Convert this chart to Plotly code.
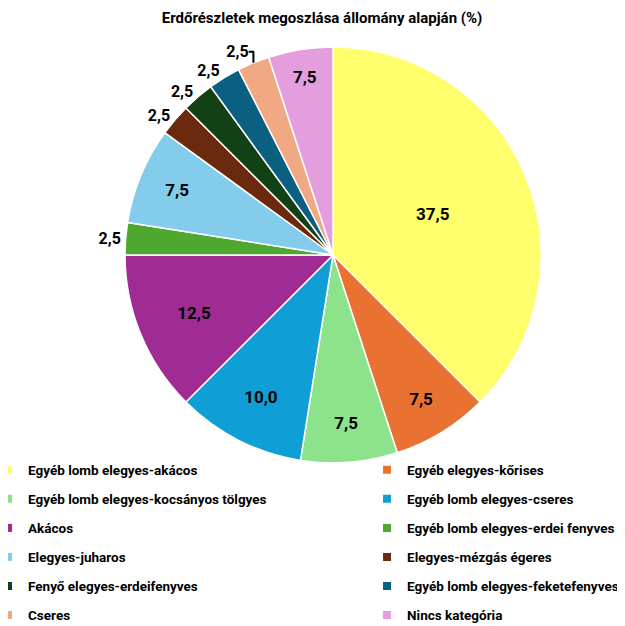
import plotly.graph_objects as go

# slices, clockwise from 12 o'clock
labels = [
    'Egyéb lomb elegyes-akácos',
    'Egyéb elegyes-kőrises',
    'Egyéb lomb elegyes-kocsányos tölgyes',
    'Egyéb lomb elegyes-cseres',
    'Akácos',
    'Egyéb lomb elegyes-erdei fenyves',
    'Elegyes-juharos',
    'Elegyes-mézgás égeres',
    'Fenyő elegyes-erdeifenyves',
    'Egyéb lomb elegyes-feketefenyves',
    'Cseres',
    'Nincs kategória',
]
# slice sizes as drawn (%)
values = [37.5, 7.5, 7.5, 10.0, 12.5, 2.5, 7.5, 2.5, 2.5, 2.5, 2.5, 5.0]
# data labels as printed on the chart
value_labels = ['37,5', '7,5', '7,5', '10,0', '12,5', '2,5',
                '7,5', '2,5', '2,5', '2,5', '2,5', '7,5']
colors = [
    '#FFFF6B', '#E97132', '#8CE38C', '#0F9ED5', '#A02B93', '#4EA72E',
    '#83CCEB', '#6B2A0E', '#124116', '#0B5F80', '#F1A983', '#E49EDD',
]

FONT = 'Roboto, Arial'

positions = ['inside' if v >= 5 else 'outside' for v in values]

fig = go.Figure()
fig.add_trace(go.Pie(
    labels=labels,
    values=values,
    text=value_labels,
    textinfo='text',
    textposition=positions,
    insidetextorientation='horizontal',
    textfont=dict(family=FONT, size=17, color='black', weight='bold'),
    outsidetextfont=dict(family=FONT, size=16, color='black', weight='bold'),
    marker=dict(colors=colors, line=dict(color='white', width=1.5)),
    sort=False,
    direction='clockwise',
    rotation=0,
    showlegend=False,
    hoverinfo='label+text',
    domain=dict(x=[0.1896, 0.8639], y=[0.2638, 0.9369]),
))

# legend entries, two columns
for i, (lab, col) in enumerate(zip(labels, colors)):
    fig.add_trace(go.Scatter(
        x=[None], y=[None], mode='markers',
        marker=dict(symbol='square', size=8, color=col),
        name=lab, legendgroup=lab,
        legend='legend' if i % 2 == 0 else 'legend2',
    ))

legend_style = dict(
    orientation='v', traceorder='grouped', tracegroupgap=8.5,
    font=dict(family=FONT, size=13.5, color='black', weight='bold'),
    bgcolor='rgba(0,0,0,0)', itemwidth=30,
    yanchor='top', y=0.2775,
)

fig.update_layout(
    width=617, height=618,
    margin=dict(l=0, r=0, t=0, b=0, autoexpand=False),
    paper_bgcolor='white', plot_bgcolor='white',
    title=dict(
        text='Erdőrészletek megoszlása állomány alapján (%)',
        x=0.509, xanchor='center', y=0.984, yanchor='middle',
        font=dict(family=FONT, size=15, color='black', weight='bold'),
    ),
    xaxis=dict(visible=False), yaxis=dict(visible=False),
    legend=dict(x=-0.0324, xanchor='left', **legend_style),
    legend2=dict(x=0.5819, xanchor='left', **legend_style),
)

fig.write_html('out.html')
